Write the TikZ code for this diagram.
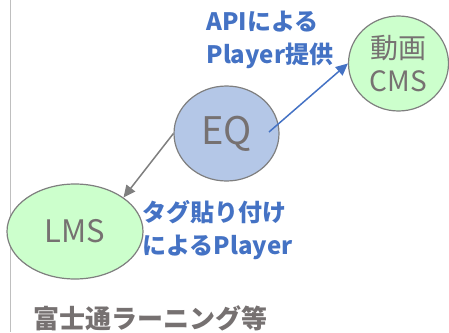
\documentclass[tikz,border=0pt]{standalone}
\usepackage{fontspec}
\setmainfont{Noto Sans CJK JP}
\usetikzlibrary{shapes.geometric}
\usetikzlibrary{arrows.meta}

\definecolor{eqblue}{HTML}{B4C7E7}
\definecolor{mintgreen}{HTML}{CCFFCC}
\definecolor{edgegray}{HTML}{7F7F7F}
\definecolor{textgray}{HTML}{767171}
\definecolor{apiblue}{HTML}{4472C4}
\definecolor{rulegray}{HTML}{BFBFBF}

\tikzset{
    bubble/.style={ellipse, draw=edgegray, line width=1.2pt, inner sep=0pt,
        text=textgray, minimum height=95pt},
    bluenote/.style={text=apiblue, align=left, anchor=west,
        font=\fontsize{24}{33}\selectfont\bfseries},
}

\begin{document}
\begin{tikzpicture}[x=1pt, y=-1pt]

    \useasboundingbox (0,0) rectangle (449,332);

    \coordinate (T) at (10.5,0);
    \coordinate (B) at (10.5,332);
    \draw [rulegray, line width=1pt] (T) -- (B);

    \node [bubble, fill=eqblue, minimum width=105pt, font=\fontsize{38}{38}\selectfont] (EQ) at (226.5,133.5) {EQ};
    \node [bubble, fill=mintgreen, minimum width=100pt, align=center, font=\fontsize{28}{33}\selectfont] (CMS) at (398.5,63.5) {動画\\CMS};
    \node [bubble, fill=mintgreen, minimum width=136pt, font=\fontsize{31}{31}\selectfont] (LMS) at (75,231.5) {LMS};

    \coordinate (A) at (269,132);
    \draw [apiblue, line width=1.5pt, -{Triangle[length=12pt,width=11pt]}] (A) -- (CMS.west);
    \draw [edgegray, line width=1.5pt, -{Triangle[length=12pt,width=11pt]}] (EQ.west) -- (LMS.north east);

    \node [bluenote] (api) at (203,40) {APIによる\\Player提供};
    \node [bluenote] (tag) at (139,230) {タグ貼り付け\\によるPlayer};

    \node [anchor=west, text=textgray, font=\fontsize{26}{26}\selectfont\bfseries] (fujitsu) at (30,318) {富士通ラーニング等};
\end{tikzpicture}
\end{document}
